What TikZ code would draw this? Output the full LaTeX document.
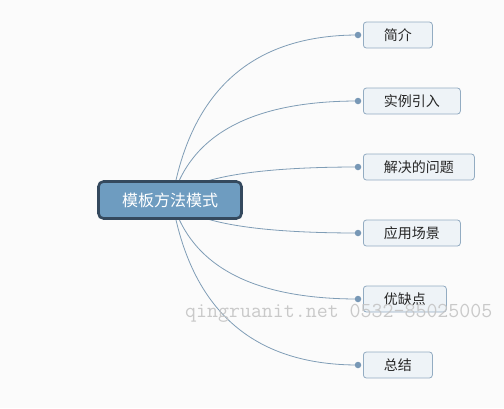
\documentclass[tikz,border=0pt]{standalone}
\usepackage{fontspec}
\newfontfamily\cjk{Noto Sans CJK SC}
\usetikzlibrary{calc,backgrounds}
\definecolor{bgc}{HTML}{FBFBFB}
\definecolor{rootfill}{HTML}{6E9CC0}
\definecolor{rootdraw}{HTML}{34495E}
\definecolor{childfill}{HTML}{EEF3F7}
\definecolor{childdraw}{HTML}{93ACC2}
\definecolor{linec}{HTML}{7F9DB6}
\definecolor{dotc}{HTML}{7898B6}
\definecolor{wmc}{HTML}{C4C4C4}
\tikzset{
  rootbox/.style={draw=rootdraw, fill=rootfill, line width=2.6pt, rounded corners=5pt,
    minimum width=143pt, minimum height=37pt, inner sep=0pt, text=white,
    font=\cjk\fontsize{16}{18}\selectfont},
  childbox/.style={draw=childdraw, fill=childfill, line width=0.8pt, rounded corners=3pt,
    minimum height=26pt, inner xsep=20.5pt, inner ysep=0pt, anchor=west, text=black!85,
    font=\cjk\fontsize{14}{16}\selectfont},
  conn/.style={draw=linec, line width=0.8pt},
  dotmark/.style={circle, fill=dotc, inner sep=0pt, minimum size=6.5pt},
  wm/.style={text=wmc, font=\ttfamily\fontsize{21.3}{23}\selectfont, inner sep=0pt, opacity=0.9}
}
\begin{document}
\begin{tikzpicture}[x=1pt,y=-1pt]
\useasboundingbox (0,0) rectangle (504,408);
\node[rootbox] (root) at (170,200) {模板方法模式};
\node[childbox] (c1) at (363,35) {简介};
\node[childbox] (c2) at (363,101) {实例引入};
\node[childbox] (c3) at (363,167) {解决的问题};
\node[childbox] (c4) at (363,233) {应用场景};
\node[childbox] (c5) at (363,299) {优缺点};
\node[childbox] (c6) at (363,365) {总结};
\foreach \i in {1,...,6}{
  \node[dotmark] (d\i) at ($(c\i.west)+(-5,0)$) {};
}
\begin{scope}[on background layer]
\fill[bgc] (0,0) rectangle (504,408);
\coordinate (s) at ($(root.center)+(2,0)$);
\foreach \i in {1,...,6}{
  \coordinate (q\i) at ($(s |- d\i)+(28,0)$);
  \draw[conn] (s) .. controls ($(s)!2/3!(q\i)$) and ($(d\i.center)!2/3!(q\i)$) .. (d\i.center);
}
\end{scope}
\node[wm, anchor=base west] (wmark) at (185,317) {qingruanit.net 0532-85025005};
\end{tikzpicture}
\end{document}
